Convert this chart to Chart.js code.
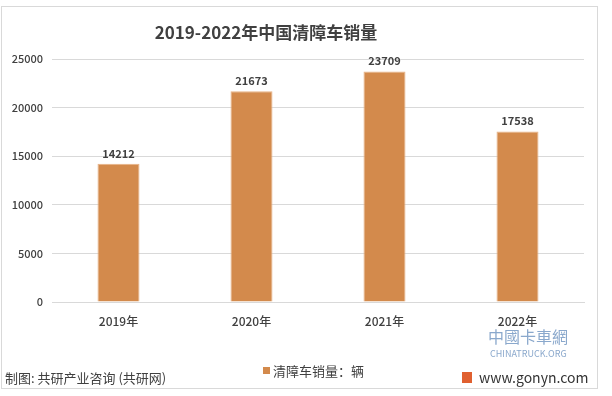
<!DOCTYPE html>
<html>
<head>
<meta charset="utf-8">
<script src="https://cdn.jsdelivr.net/npm/chart.js@4/dist/chart.umd.min.js"></script>
<style>
html, body { margin: 0; padding: 0; background: #fff; }
#wrap { width: 612px; height: 396px; position: relative; }
</style>
</head>
<body>
<div id="wrap"><canvas id="c" width="612" height="396"></canvas></div>
<script>
// data
const years = ["2019年", "2020年", "2021年", "2022年"];
const sales = [14212, 21673, 23709, 17538];
const yTicks = [0, 5000, 10000, 15000, 20000, 25000];

const FONT = '"Noto Sans CJK SC", "Noto Sans", sans-serif';
const barColor = "#d38a4c";

// frame, title, value labels, legend, footer
const decor = {
	id: "decor",
	beforeDraw(chart) {
		const ctx = chart.ctx;
		ctx.save();
		ctx.strokeStyle = "#d9d9d9";
		ctx.lineWidth = 1;
		ctx.strokeRect(1.5, 6.5, 596, 382);
		ctx.restore();
	},
	afterDatasetsDraw(chart) {
		const ctx = chart.ctx;
		ctx.save();
		// title
		ctx.fillStyle = "#404040";
		ctx.font = "bold 17px " + FONT;
		ctx.textAlign = "center";
		ctx.textBaseline = "middle";
		ctx.fillText("2019-2022年中国清障车销量", 266, 33);

		// values above bars
		ctx.font = "bold 11px " + FONT;
		ctx.textBaseline = "bottom";
		const meta = chart.getDatasetMeta(0);
		meta.data.forEach((bar, i) => {
			ctx.fillText(sales[i], bar.x, bar.y - 5);
		});

		// legend
		ctx.fillStyle = barColor;
		ctx.fillRect(263, 367, 7, 7);
		ctx.fillStyle = "#404040";
		ctx.font = "13px " + FONT;
		ctx.textAlign = "left";
		ctx.textBaseline = "middle";
		ctx.fillText("清障车销量：辆", 273, 371);

		// footer
		ctx.font = "13px " + FONT;
		ctx.fillText("制图: 共研产业咨询 (共研网)", 5, 378);
		ctx.font = "14px " + FONT;
		ctx.fillStyle = "#333";
		ctx.fillText("www.gonyn.com", 479, 378);
		ctx.fillStyle = "#e06030";
		ctx.fillRect(462, 372, 10, 11);
		ctx.fillStyle = "#8aa8cc";
		ctx.font = "16px " + FONT;
		ctx.fillText("中國卡車網", 488, 337);
		ctx.font = "9px " + FONT;
		ctx.fillText("CHINATRUCK.ORG", 490, 354);
		ctx.restore();
	}
};

new Chart(document.getElementById("c"), {
	type: "bar",
	data: {
		labels: years,
		datasets: [{
			label: "清障车销量：辆",
			data: sales,
			backgroundColor: barColor,
			borderColor: "#e9b386",
			borderWidth: 1,
			categoryPercentage: 1,
			barPercentage: 0.316
		}]
	},
	options: {
		responsive: false,
		animation: false,
		layout: { padding: { left: 0, right: 28, top: 59, bottom: 54 } },
		plugins: {
			legend: { display: false },
			title: { display: false },
			tooltip: { enabled: false }
		},
		scales: {
			x: {
				grid: { display: false, drawTicks: false },
				border: { color: "#d9d9d9" },
				ticks: { color: "#404040", font: { family: FONT, size: 12, weight: "500" }, padding: 12 },
				afterFit(s) { s.height = 40; }
			},
			y: {
				min: 0,
				max: 25000,
				grid: { color: "#d9d9d9", drawTicks: false },
				border: { display: false },
				ticks: {
					color: "#404040",
					font: { family: FONT, size: 11, weight: "500" },
					padding: 9,
					callback: v => String(v)
				},
				afterBuildTicks(s) { s.ticks = yTicks.map(v => ({ value: v })); },
				afterFit(s) { s.width = 52; }
			}
		}
	},
	plugins: [decor]
});
</script>
</body>
</html>
